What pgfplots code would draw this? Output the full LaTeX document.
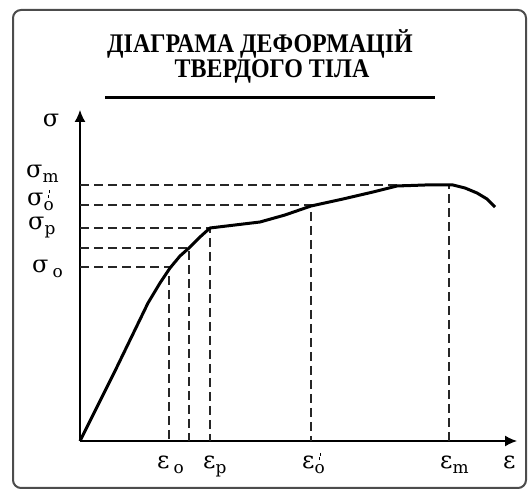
\documentclass[border=0pt]{standalone}
\usepackage{fontspec}
\setmainfont{Liberation Serif}
\newfontfamily\lab{DejaVu Serif}
\usepackage{pgfplots}
\pgfplotsset{compat=1.18}
\usetikzlibrary{arrows.meta}
\newcommand\gr{\lab\fontsize{24}{24}\selectfont}
\newcommand\sub[1]{\raisebox{-5bp}{\fontsize{17}{17}\selectfont #1}}
\newcommand\subpr[1]{\rlap{\hspace{4bp}\raisebox{8bp}{\rule{1.4bp}{3bp}}\raisebox{12.5bp}{\rule{1.4bp}{3bp}}}\raisebox{-5bp}{\fontsize{17}{17}\selectfont #1}}
\begin{document}
\begin{tikzpicture}
\useasboundingbox (0bp,0bp) rectangle (528bp,489bp);
\draw[line width=2bp, color=black!70, rounded corners=8bp] (13bp,1bp) rectangle (526bp,479bp);
\node[font=\fontsize{27}{27}\selectfont\bfseries] at (260bp,445bp) {\scalebox{0.89}[1]{ДІАГРАМА ДЕФОРМАЦІЙ}};
\node[font=\fontsize{27}{27}\selectfont\bfseries] at (272bp,418bp) {\scalebox{0.89}[1]{ТВЕРДОГО ТІЛА}};
\draw[line width=3bp] (105bp,391bp) -- (435bp,391bp);
\begin{axis}[at={(80bp,48bp)}, anchor=south west, scale only axis,
  width=437bp, height=331bp, xmin=0, xmax=437, ymin=0, ymax=331,
  axis lines=left, axis line style={line width=1.4bp, -{Latex[length=12bp,width=11bp]}},
  xtick=\empty, ytick=\empty, clip=false]
% dashed guide lines
\addplot[black!85, line width=1.4bp, dash pattern=on 9bp off 5bp] coordinates {(0,256) (369,256) (369,0)};
\addplot[black!85, line width=1.4bp, dash pattern=on 9bp off 5bp] coordinates {(0,236) (231,236) (231,0)};
\addplot[black!85, line width=1.4bp, dash pattern=on 9bp off 5bp] coordinates {(0,213) (130,213) (130,0)};
\addplot[black!85, line width=1.4bp, dash pattern=on 9bp off 5bp] coordinates {(0,193) (109,193) (109,0)};
\addplot[black!85, line width=1.4bp, dash pattern=on 9bp off 5bp] coordinates {(0,174) (89,174) (89,0)};
% stress-strain curve
\addplot[black, line width=3bp, line join=round] coordinates {
(0,0) (35,70) (68,138) (80,158) (90,173) (100,185) (109,193) (120,204) (130,213) (155,216) (180,219) (205,226) (231,235) (263,242) (293,249) (317,255) (345,256) (373,256) (385,253) (397,248) (407,242) (415,234)};
% labels
\node[font=\gr] at (axis cs:-29,321) {σ};
\node[anchor=base west, font=\gr, inner sep=0pt] at (axis cs:-54,263) {σ\sub{m}};
\node[anchor=base west, font=\gr, inner sep=0pt] at (axis cs:-53,235) {σ\subpr{o}};
\node[anchor=base west, font=\gr, inner sep=0pt] at (axis cs:-52,211) {σ\sub{p}};
\node[anchor=base west, font=\gr, inner sep=0pt] at (axis cs:-48,168) {σ\,\sub{o}};
\node[anchor=base west, font=\gr, inner sep=0pt] at (axis cs:77,-27) {ε\,\sub{o}};
\node[anchor=base west, font=\gr, inner sep=0pt] at (axis cs:123,-27) {ε\sub{p}};
\node[anchor=base west, font=\gr, inner sep=0pt] at (axis cs:222,-27) {ε\subpr{o}};
\node[anchor=base west, font=\gr, inner sep=0pt] at (axis cs:360,-27) {ε\sub{m}};
\node[anchor=base west, font=\gr, inner sep=0pt] at (axis cs:423,-27) {ε};
\end{axis}
\end{tikzpicture}
\end{document}
